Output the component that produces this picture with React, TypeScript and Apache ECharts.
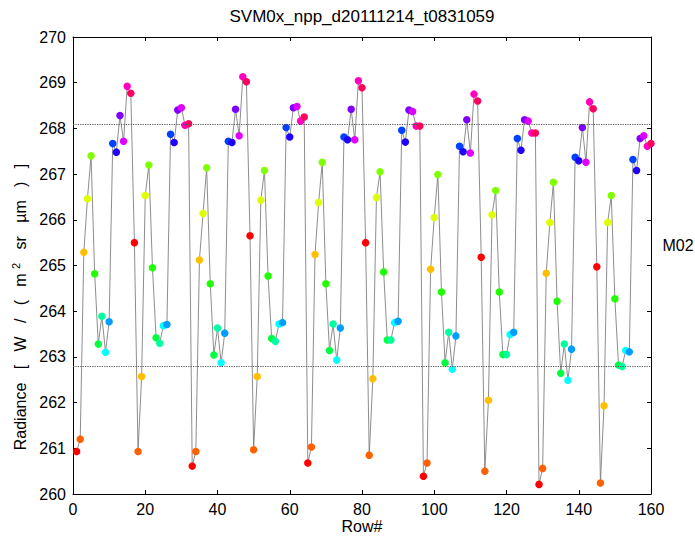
import React, { useEffect, useRef } from "react";
import * as echarts from "echarts";

// Per-row mean radiance for band M02, 16 detectors per scan, 10 scans.
const chartTitle = "SVM0x_npp_d20111214_t0831059";
const bandName = "M02";
const xAxisTitle = "Row#";
const xTickValues = [0, 20, 40, 60, 80, 100, 120, 140, 160];
const yTickValues = [260, 261, 262, 263, 264, 265, 266, 267, 268, 269, 270];

// One colour per detector (hsv colour map, 16 entries)
const detectorColors = [
  "#FF0000", "#FF6000", "#FFBF00", "#DFFF00",
  "#80FF00", "#20FF00", "#00FF40", "#00FF9F",
  "#00FFFF", "#009FFF", "#0040FF", "#2000FF",
  "#8000FF", "#DF00FF", "#FF00BF", "#FF0060",
];

const radiance = [
  // scan 1
  260.93, 261.2, 265.29, 266.46, 267.4, 264.82, 263.28, 263.89,
  263.1, 263.77, 267.67, 267.48, 268.28, 267.72, 268.92, 268.77,
  // scan 2
  265.5, 260.93, 262.57, 266.53, 267.2, 264.95, 263.42, 263.3,
  263.68, 263.71, 267.87, 267.69, 268.4, 268.45, 268.07, 268.1,
  // scan 3
  260.61, 260.93, 265.12, 266.14, 267.14, 264.6, 263.04, 263.63,
  262.87, 263.52, 267.72, 267.69, 268.42, 267.84, 269.13, 269.02,
  // scan 4
  265.65, 260.97, 262.57, 266.43, 267.08, 264.77, 263.4, 263.34,
  263.72, 263.75, 268.02, 267.81, 268.45, 268.48, 268.16, 268.25,
  // scan 5
  260.68, 261.03, 265.24, 266.38, 267.26, 264.6, 263.14, 263.72,
  262.93, 263.63, 267.81, 267.75, 268.42, 267.75, 269.04, 268.89,
  // scan 6
  265.5, 260.85, 262.52, 266.49, 267.05, 264.86, 263.37, 263.37,
  263.75, 263.78, 267.96, 267.7, 268.4, 268.37, 268.05, 268.05,
  // scan 7
  260.39, 260.68, 264.92, 266.05, 266.99, 264.42, 262.87, 263.54,
  262.73, 263.46, 267.61, 267.49, 268.19, 267.46, 268.75, 268.6,
  // scan 8
  265.18, 260.5, 262.05, 266.11, 266.64, 264.42, 263.05, 263.05,
  263.49, 263.54, 267.78, 267.52, 268.19, 268.16, 267.9, 267.9,
  // scan 9
  260.21, 260.56, 264.83, 265.94, 266.82, 264.22, 262.64, 263.28,
  262.49, 263.17, 267.37, 267.29, 268.02, 267.26, 268.58, 268.43,
  // scan 10
  264.97, 260.24, 261.93, 265.94, 266.53, 264.27, 262.82, 262.79,
  263.14, 263.11, 267.32, 267.08, 267.78, 267.84, 267.61, 267.67,
];

// Horizontal reference levels
const referenceLevels = [268.08, 262.79];

const FONT = "'Liberation Sans', Arial, Helvetica, sans-serif";

export default function App() {
  const ref = useRef<HTMLDivElement>(null);

  useEffect(() => {
    if (!ref.current) return;
    const chart = echarts.init(ref.current, null, { renderer: "svg" });

    const points = radiance.map((v, i) => ({
      value: [i + 1, v],
      itemStyle: { color: detectorColors[i % detectorColors.length] },
    }));

    const xBase = {
      type: "value" as const,
      min: xTickValues[0],
      max: xTickValues[xTickValues.length - 1],
      interval: xTickValues[1] - xTickValues[0],
      splitLine: { show: false },
      axisLine: { show: true, onZero: false, lineStyle: { color: "#000", width: 1 } },
      axisTick: { show: true, inside: true, length: 4, lineStyle: { color: "#000" } },
    };
    const yBase = {
      type: "value" as const,
      min: yTickValues[0],
      max: yTickValues[yTickValues.length - 1],
      interval: yTickValues[1] - yTickValues[0],
      splitLine: { show: false },
      axisLine: { show: true, onZero: false, lineStyle: { color: "#000", width: 1 } },
      axisTick: { show: true, inside: true, length: 4, lineStyle: { color: "#000" } },
    };
    const labelStyle = { color: "#000", fontSize: 16, fontFamily: FONT };

    chart.setOption({
      animation: false,
      backgroundColor: "#fff",
      grid: { left: 73, right: 44, top: 37, bottom: 46, containLabel: false },
      xAxis: [
        { ...xBase, position: "bottom", axisLabel: { ...labelStyle, margin: 7 } },
        { ...xBase, position: "top", axisLabel: { show: false } },
      ],
      yAxis: [
        { ...yBase, position: "left", axisLabel: { ...labelStyle, margin: 7 } },
        { ...yBase, position: "right", axisLabel: { show: false } },
      ],
      graphic: [
        {
          type: "text",
          x: 362,
          y: 16,
          style: {
            text: chartTitle,
            fill: "#000",
            font: `17px ${FONT}`,
            textAlign: "center",
            textVerticalAlign: "middle",
          },
        },
        {
          type: "text",
          x: 362,
          y: 526,
          style: {
            text: xAxisTitle,
            fill: "#000",
            font: `16px ${FONT}`,
            textAlign: "center",
            textVerticalAlign: "middle",
          },
        },
        {
          type: "text",
          x: 678,
          y: 245,
          style: {
            text: bandName,
            fill: "#000",
            font: `16px ${FONT}`,
            textAlign: "center",
            textVerticalAlign: "middle",
          },
        },
        {
          type: "text",
          x: 20,
          y: 307,
          rotation: Math.PI / 2,
          style: {
            text: "{n|Radiance   [   W   /   (   m }{s|2}{n|   sr   µm   )   ]}",
            fill: "#000",
            textAlign: "center",
            textVerticalAlign: "middle",
            rich: {
              n: { fontSize: 16, fontFamily: FONT, lineHeight: 20, fill: "#000" },
              s: { fontSize: 11, fontFamily: FONT, lineHeight: 12, verticalAlign: "top", fill: "#000" },
            },
          },
        },
      ],
      series: [
        {
          type: "line",
          data: points,
          symbol: "circle",
          symbolSize: 7.5,
          showAllSymbol: true,
          lineStyle: { color: "#808080", width: 0.9 },
          itemStyle: { borderWidth: 0 },
          emphasis: { disabled: true },
          markLine: {
            silent: true,
            symbol: "none",
            label: { show: false },
            lineStyle: { color: "#555", type: "dotted", width: 1.2 },
            data: referenceLevels.map((v) => ({ yAxis: v })),
          },
          z: 3,
        },
      ],
    });

    return () => chart.dispose();
  }, []);

  return (
    <div
      ref={ref}
      style={{ position: "fixed", left: 0, top: 0, width: 695, height: 540 }}
    />
  );
}
